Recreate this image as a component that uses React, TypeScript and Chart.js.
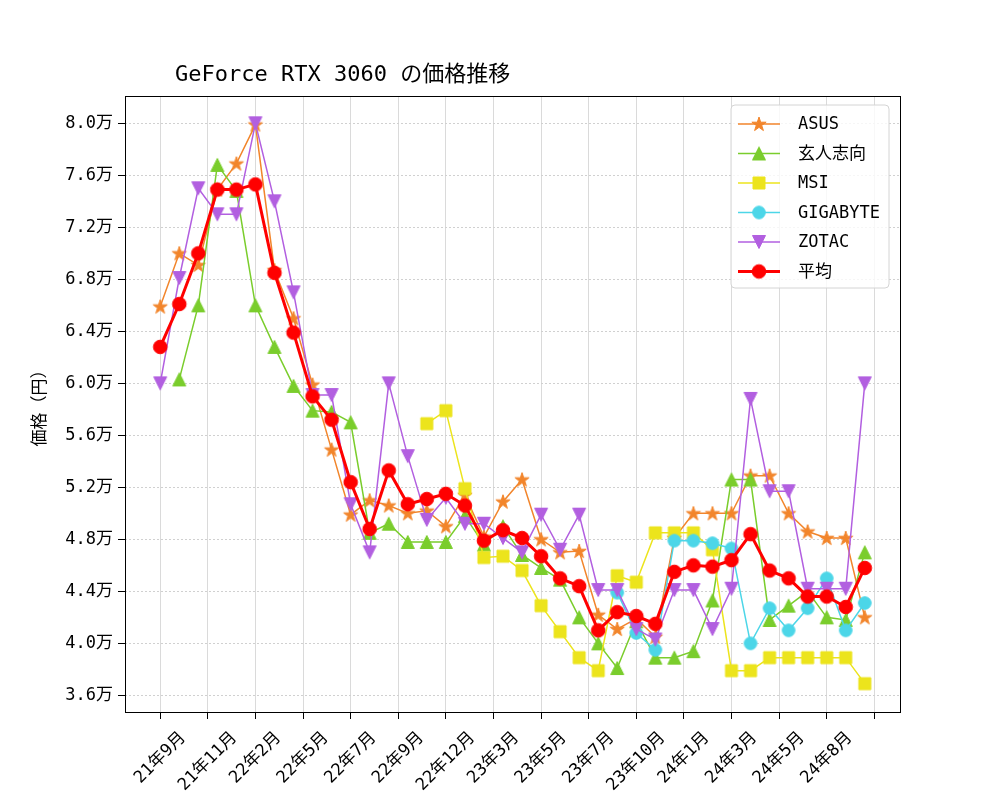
import React, { useEffect, useRef } from 'react';
import { Chart, registerables } from 'chart.js';

Chart.register(...registerables);

const FONT = "'DejaVu Sans Mono', 'Noto Sans CJK JP', sans-serif";

// x tick positions (index units) and their labels
const tickPositions = [0, 2.5, 5, 7.5, 10, 12.5, 15, 17.5, 20, 22.5, 25, 27.5, 30, 32.5, 35, 37.5];
const tickLabels = ['21年9月', '21年11月', '22年2月', '22年5月', '22年7月', '22年9月', '22年12月', '23年3月', '23年5月', '23年7月', '23年10月', '24年1月', '24年3月', '24年5月', '24年8月', ''];

const yTicks = [36000, 40000, 44000, 48000, 52000, 56000, 60000, 64000, 68000, 72000, 76000, 80000];

const asus = [65900, 70000, 69100, 74900, 76900, 79900, 68700, 65000, 59900, 54900, 49900, 51000, 50600, 50000, 50200, 49000, 51400, 48200, 50900, 52600, 48000, 47000, 47100, 42200, 41100, 41900, 40500, 48100, 50000, 50000, 50000, 52900, 52900, 50000, 48600, 48100, 48100, 42000];
const kurouto = [null, 60300, 66000, 76800, 74800, 66000, 62800, 59800, 57900, 57800, 57000, 48500, 49200, 47800, 47800, 47800, 49800, 47600, 49000, 46800, 45800, 44900, 42000, 40000, 38100, 41700, 38900, 38900, 39400, 43300, 52600, 52600, 41800, 42900, 44000, 42000, 41800, 47000];
const msi = [null, null, null, null, null, null, null, null, null, null, null, null, null, null, 56900, 57900, 51900, 46600, 46700, 45600, 42900, 40900, 38900, 37900, 45200, 44700, 48500, 48500, 48500, 47200, 37900, 37900, 38900, 38900, 38900, 38900, 38900, 36900];
const gigabyte = [null, null, null, null, null, null, null, null, null, null, null, null, null, null, null, null, null, null, null, null, null, null, null, null, 43900, 40800, 39500, 47900, 47900, 47700, 47300, 40000, 42700, 41000, 42700, 45000, 41000, 43100];
const zotac = [60000, 68100, 75000, 73000, 73000, 80000, 74000, 67000, 59100, 59100, 50700, 47000, 60000, 54400, 49500, 51200, 49200, 49200, 48100, 47000, 49900, 47200, 49900, 44100, 44100, 41100, 40300, 44100, 44100, 41100, 44200, 58800, 51700, 51700, 44200, 44200, 44200, 60000];
const average = [62800, 66100, 70000, 74900, 74900, 75300, 68500, 63900, 59000, 57200, 52400, 48800, 53300, 50700, 51100, 51500, 50600, 47900, 48700, 48100, 46700, 45000, 44400, 41000, 42400, 42100, 41500, 45500, 46000, 45900, 46400, 48400, 45600, 45000, 43600, 43600, 42800, 45800];

const seriesNames = ['ASUS', '玄人志向', 'MSI', 'GIGABYTE', 'ZOTAC', '平均'];
const seriesColors = ['#f2852b', '#7acd2c', '#ece41c', '#4cd6e8', '#b25fe0', '#ff0000'];
const seriesShapes = ['star', 'triUp', 'square', 'circle', 'triDown', 'circleBig'];
const seriesWidths = [1.5, 1.5, 1.5, 1.5, 1.5, 3];

function makeMarker(shape: string, color: string): HTMLCanvasElement {
  const D = 18;
  const c = document.createElement('canvas');
  c.width = D;
  c.height = D;
  const ctx = c.getContext('2d')!;
  const m = D / 2;
  ctx.fillStyle = color;
  ctx.strokeStyle = color;
  ctx.lineWidth = 1;
  ctx.beginPath();
  if (shape === 'star') {
    const ro = 7.5, ri = 7.5 * 0.381966;
    for (let k = 0; k < 10; k++) {
      const r = k % 2 === 0 ? ro : ri;
      const a = -Math.PI / 2 + (k * Math.PI) / 5;
      const px = m + r * Math.cos(a), py = m + 0.5 + r * Math.sin(a);
      if (k === 0) ctx.moveTo(px, py); else ctx.lineTo(px, py);
    }
    ctx.closePath();
  } else if (shape === 'triUp') {
    const h = 6.5;
    ctx.moveTo(m, m - h);
    ctx.lineTo(m - h, m + h);
    ctx.lineTo(m + h, m + h);
    ctx.closePath();
  } else if (shape === 'triDown') {
    const h = 6.5;
    ctx.moveTo(m, m + h);
    ctx.lineTo(m - h, m - h);
    ctx.lineTo(m + h, m - h);
    ctx.closePath();
  } else if (shape === 'square') {
    const h = 6;
    ctx.rect(m - h, m - h, 2 * h, 2 * h);
  } else if (shape === 'circle') {
    ctx.arc(m, m, 6.3, 0, Math.PI * 2);
  } else {
    ctx.arc(m, m, 6.8, 0, Math.PI * 2);
  }
  ctx.fill();
  ctx.stroke();
  return c;
}

export default function App() {
  const ref = useRef<HTMLCanvasElement | null>(null);

  useEffect(() => {
    document.body.style.margin = '0';
    const canvas = ref.current!;
    const markers = seriesShapes.map((s, i) => makeMarker(s, seriesColors[i]));
    const allSeries = [asus, kurouto, msi, gigabyte, zotac, average];

    const datasets = allSeries.map((vals, i) => ({
      label: seriesNames[i],
      data: vals.map((v, k) => ({ x: k, y: v })),
      borderColor: seriesColors[i],
      backgroundColor: seriesColors[i],
      borderWidth: seriesWidths[i],
      pointStyle: markers[i] as any,
      pointRadius: 7,
      pointHoverRadius: 7,
      tension: 0,
      spanGaps: false,
      order: 5 - i,
    }));

    const overlay = {
      id: 'overlay',
      afterDraw(chart: any) {
        const ctx = chart.ctx as CanvasRenderingContext2D;
        const a = chart.chartArea;
        ctx.save();
        // frame
        ctx.strokeStyle = '#000';
        ctx.lineWidth = 1;
        ctx.strokeRect(Math.round(a.left) + 0.5, Math.round(a.top) + 0.5, Math.round(a.right - a.left), Math.round(a.bottom - a.top));

        // title
        ctx.fillStyle = '#000';
        ctx.font = `22px ${FONT}`;
        ctx.textAlign = 'left';
        ctx.textBaseline = 'middle';
        ctx.fillText('GeForce RTX 3060 の価格推移', 175, 75);

        // y-axis title
        ctx.save();
        ctx.translate(41, (a.top + a.bottom) / 2);
        ctx.rotate(-Math.PI / 2);
        ctx.font = `17px ${FONT}`;
        ctx.textAlign = 'center';
        ctx.textBaseline = 'middle';
        ctx.fillText('価格（円）', 0, 0);
        ctx.restore();

        // x tick labels, rotated 45 deg, centered under tick
        const xs = chart.scales.x;
        ctx.font = `17px ${FONT}`;
        const fh = 17;
        tickPositions.forEach((p, i) => {
          const t = tickLabels[i];
          if (!t) return;
          const w = ctx.measureText(t).width;
          const H = (w + fh) * Math.SQRT1_2;
          const cx = xs.getPixelForValue(p);
          const cy = a.bottom + 17 + H / 2;
          ctx.save();
          ctx.translate(cx, cy);
          ctx.rotate(-Math.PI / 4);
          ctx.textAlign = 'center';
          ctx.textBaseline = 'middle';
          ctx.fillText(t, 0, 0);
          ctx.restore();
        });

        // legend
        const lx = 731, ly = 105, lw = 158, lh = 183;
        ctx.beginPath();
        const r = 4;
        ctx.moveTo(lx + r, ly);
        ctx.lineTo(lx + lw - r, ly);
        ctx.quadraticCurveTo(lx + lw, ly, lx + lw, ly + r);
        ctx.lineTo(lx + lw, ly + lh - r);
        ctx.quadraticCurveTo(lx + lw, ly + lh, lx + lw - r, ly + lh);
        ctx.lineTo(lx + r, ly + lh);
        ctx.quadraticCurveTo(lx, ly + lh, lx, ly + lh - r);
        ctx.lineTo(lx, ly + r);
        ctx.quadraticCurveTo(lx, ly, lx + r, ly);
        ctx.closePath();
        ctx.fillStyle = 'rgba(255,255,255,0.8)';
        ctx.fill();
        ctx.strokeStyle = '#d4d4d4';
        ctx.lineWidth = 1;
        ctx.stroke();

        ctx.font = `17px ${FONT}`;
        ctx.textAlign = 'left';
        ctx.textBaseline = 'middle';
        seriesNames.forEach((name, i) => {
          const y = 124 + i * 29.5;
          ctx.strokeStyle = seriesColors[i];
          ctx.lineWidth = seriesWidths[i];
          ctx.beginPath();
          ctx.moveTo(738, y);
          ctx.lineTo(780, y);
          ctx.stroke();
          const mk = markers[i];
          ctx.drawImage(mk, 759 - mk.width / 2, y - mk.height / 2);
          ctx.fillStyle = '#000';
          ctx.fillText(name, 798, y + 1);
        });
        ctx.restore();
      },
    };

    const chart = new Chart(canvas, {
      type: 'line',
      data: { datasets: datasets as any },
      options: {
        animation: false,
        responsive: false,
        devicePixelRatio: 1,
        events: [],
        layout: { padding: { top: 96, right: 100, bottom: 0, left: 0 } },
        plugins: {
          legend: { display: false },
          title: { display: false },
          tooltip: { enabled: false },
        },
        scales: {
          x: {
            type: 'linear',
            min: -1.85,
            max: 38.85,
            afterBuildTicks: (s: any) => {
              s.ticks = tickPositions.map((v) => ({ value: v }));
            },
            afterFit: (s: any) => {
              s.height = 88;
            },
            grid: {
              color: '#dadada',
              lineWidth: 1,
              drawTicks: true,
              tickLength: 7,
              tickColor: '#000',
              tickWidth: 1,
            },
            border: { display: false },
            ticks: { display: false },
          },
          y: {
            type: 'linear',
            min: 34720,
            max: 82100,
            afterBuildTicks: (s: any) => {
              s.ticks = yTicks.map((v) => ({ value: v }));
            },
            afterFit: (s: any) => {
              s.width = 125;
            },
            grid: {
              color: '#d0d0d0',
              lineWidth: 1,
              drawTicks: true,
              tickLength: 7,
              tickColor: '#000',
              tickWidth: 1,
            },
            border: { display: false, dash: [2, 2] },
            ticks: {
              color: '#000',
              padding: 5,
              font: { family: FONT, size: 17 },
              callback: (v: any) => (Number(v) / 10000).toFixed(1) + '万',
            },
          },
        },
      },
      plugins: [overlay],
    });

    return () => chart.destroy();
  }, []);

  return (
    <div style={{ width: 1000, height: 800 }}>
      <canvas ref={ref} width={1000} height={800} style={{ display: 'block', width: 1000, height: 800 }} />
    </div>
  );
}
